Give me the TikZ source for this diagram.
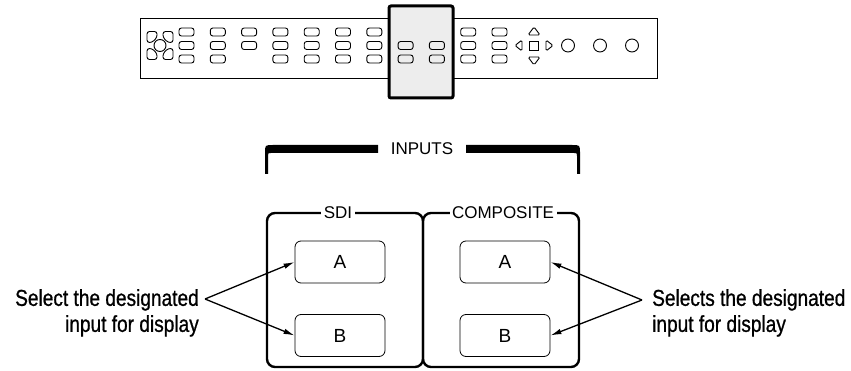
\documentclass[tikz,border=0pt]{standalone}
\usepackage{fontspec}
\setmainfont{Liberation Sans}
\newfontfamily\narrowfont[FakeStretch=0.83,FakeBold=0.8]{Liberation Sans}
\usetikzlibrary{arrows.meta}
\tikzstyle{bordered} = [draw,rounded corners=6,minimum width=90,minimum height=42,inner sep=0,line width=0.8,font=\fontsize{19}{21}\selectfont]
\tikzstyle{group} = [line width=2.4,rounded corners=8]
\tikzstyle{grouplabel} = [fill=white,inner sep=2.5,font=\fontsize{17}{19}\selectfont]
\tikzstyle{arrow} = [-{Latex[length=11,width=5.5]},line width=1.3]
\tikzstyle{btn} = [draw,rounded corners=2.5,minimum width=15,minimum height=8,inner sep=0,line width=0.9]
\tikzstyle{callout} = [font=\narrowfont\fontsize{23}{26}\selectfont,inner sep=0]

\begin{document}
\begin{tikzpicture}[x=1pt,y=-1pt]
    \useasboundingbox (0,0) rectangle (851,371);
    % front panel
    \draw [line width=0.9] (140,18) rectangle (657,78);
    \draw [fill=black!7,line width=3,rounded corners=2] (389,6) rectangle (453,98);
    \foreach \sx/\sy in {1/1,1/-1,-1/1,-1/-1}
      \draw [line width=0.9,rounded corners=2.5,shift={(160,45.5)},xscale=\sx,yscale=\sy] (-13,-14) -- (-3,-14) -- (-3,-8) -- (-8,-3) -- (-13,-3) -- cycle;
    \draw [line width=0.9] (160,45.5) circle (6);
    \foreach \c in {1,2,3,4,5,6,7,10,11}
      \node [btn] at ({186.5+31.3*(\c-1)},32) {};
    \foreach \c in {1,...,11}
      \node [btn] at ({186.5+31.3*(\c-1)},45.5) {};
    \foreach \c in {1,2,4,5,6,7,8,9,10,11}
      \node [btn] at ({186.5+31.3*(\c-1)},59) {};
    \draw [line width=0.9] (529.5,41) rectangle (538.5,50);
    \draw [line width=0.9,rounded corners=1.5] (534,27) -- (540,35) -- (528,35) -- cycle;
    \draw [line width=0.9,rounded corners=1.5] (534,65) -- (540,57) -- (528,57) -- cycle;
    \draw [line width=0.9,rounded corners=1.5] (515,45.5) -- (522,40) -- (522,51) -- cycle;
    \draw [line width=0.9,rounded corners=1.5] (553,45.5) -- (546,40) -- (546,51) -- cycle;
    \foreach \x in {568,600,632}
      \draw [line width=0.9] (\x,45.5) circle (6.5);
    % inputs bracket
    \fill (378,145) -- (273,145) .. controls (265,145) .. (265,153) -- (265,174) -- (268,174) -- (268,156) .. controls (268,153) .. (271,153) -- (378,153) -- cycle;
    \fill (466,145) -- (572,145) .. controls (580,145) .. (580,153) -- (580,174) -- (577,174) -- (577,156) .. controls (577,153) .. (574,153) -- (466,153) -- cycle;
    \node [font=\fontsize{17}{19}\selectfont] (v0) at (422,149) {INPUTS};
    \draw [group] (267,213) rectangle (423,367);
    \draw [group] (423,213) rectangle (579,367);
    \node [grouplabel] (g1) at (338,213) {SDI};
    \node [grouplabel] (g2) at (503,213) {COMPOSITE};
    \node [bordered] (v1) at (340,262) {A};
    \node [bordered] (v2) at (340,335.5) {B};
    \node [bordered] (v3) at (505,262) {A};
    \node [bordered] (v4) at (505,335.5) {B};
    \coordinate (v5) at (205,299);
    \coordinate (v6) at (642,300);
    \node [callout,align=right,anchor=north east] (v7) at (199,289) {Select the designated\\input for display};
    \node [callout,align=left,anchor=north west] (v8) at (652,289) {Selects the designated\\input for display};
    \draw [arrow] (v5) -- (v1.west);
    \draw [arrow] (v5) -- (v2.west);
    \draw [arrow] (v6) -- (v3.east);
    \draw [arrow] (v6) -- (v4.east);
  \end{tikzpicture}
\end{document}
